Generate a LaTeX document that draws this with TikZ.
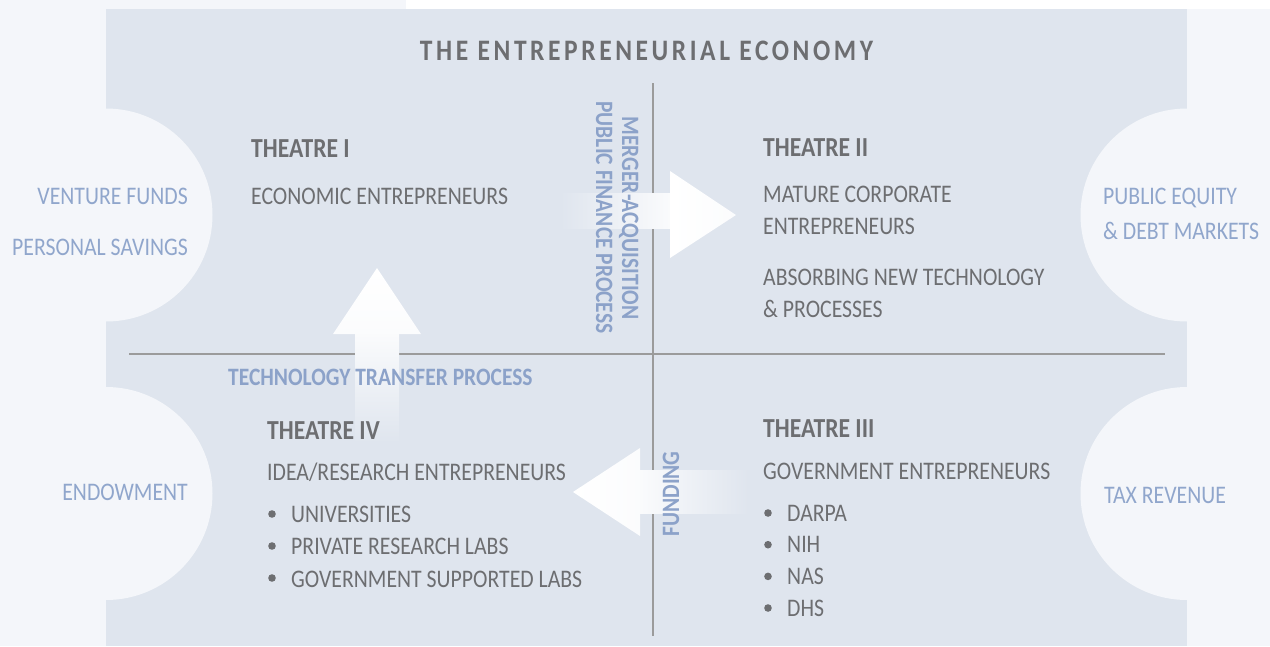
\documentclass[tikz,border=0pt]{standalone}
\usepackage{fontspec}
\setmainfont{Carlito}[FakeStretch=0.86]
\usepackage{graphicx}
\definecolor{outer}{HTML}{F4F6FA}
\definecolor{panel}{HTML}{DFE5EE}
\definecolor{greytxt}{HTML}{6D6E71}
\definecolor{bluetxt}{HTML}{90A6CC}
\definecolor{procblue}{HTML}{8CA2C9}
\definecolor{divline}{HTML}{9B9B9B}
\begin{document}
\begin{tikzpicture}[x=1pt,y=-1pt,
  txt/.style={inner sep=0pt, anchor=base west, text=greytxt, font=\fontsize{25.3}{30}\selectfont},
  hd/.style={inner sep=0pt, anchor=base west, text=greytxt, font=\fontsize{27.5}{30}\selectfont\bfseries},
  side/.style={inner sep=0pt, text=bluetxt, font=\fontsize{25.3}{30}\selectfont},
  proc/.style={inner sep=0pt, text=procblue, font=\fontsize{25}{30}\selectfont\bfseries},
  bul/.style={fill=greytxt, draw=none},
  divider/.style={draw=divline, line width=1.4pt}]
\useasboundingbox (0,0) rectangle (1270,646);
% background
\fill[outer] (0,0) rectangle (1270,646);
\fill[white] (406,0) rectangle (1270,9);
\fill[panel] (106,9) rectangle (1187,646);
\fill[outer] (106,215) circle (106.5);
\fill[outer] (106,493.5) circle (106.5);
\fill[outer] (1187,215) circle (106.5);
\fill[outer] (1187,493.5) circle (106.5);
% dividers
\coordinate (hl) at (129,354);
\coordinate (hr) at (1165,354);
\coordinate (vt) at (653,83);
\coordinate (vb) at (653,636);
\draw[divider] (hl) -- (hr);
\draw[divider] (vt) -- (vb);
% right arrow (merger)
\shade[left color=panel, right color=white!85!panel] (560,193) rectangle (670,228);
\shade[left color=white, right color=white!88!panel] (670,171) -- (736,215) -- (670,258) -- cycle;
% up arrow (technology transfer)
\shade[top color=white!85!panel, bottom color=panel] (355,334) rectangle (399,443);
\shade[top color=white, bottom color=white!88!panel] (333,334) -- (377,268) -- (421,334) -- cycle;
% left arrow (funding)
\shade[left color=white!85!panel, right color=panel] (640,470) rectangle (748,513);
\shade[left color=white, right color=white!88!panel] (640,448) -- (573,492) -- (640,536) -- cycle;
% title
\node[inner sep=0pt, anchor=base, text=greytxt, font=\fontsize{30}{34}\selectfont\bfseries] (title) at (646.5,60)
  {\resizebox{453pt}{19.5pt}{\addfontfeature{LetterSpace=12}THE ENTREPRENEURIAL ECONOMY}};
% theatre I
\node[hd] (th1) at (251,157) {THEATRE I};
\node[txt] (econ) at (251,204) {ECONOMIC ENTREPRENEURS};
% theatre II
\node[hd] (th2) at (763,156) {THEATRE II};
\node[txt] (mat1) at (763,202) {MATURE CORPORATE};
\node[txt] (mat2) at (763,234) {ENTREPRENEURS};
\node[txt] (abs1) at (763,285) {ABSORBING NEW TECHNOLOGY};
\node[txt] (abs2) at (763,317) {\& PROCESSES};
% theatre IV
\node[hd] (th4) at (267,439) {THEATRE IV};
\node[txt] (idea) at (267,480) {IDEA/RESEARCH ENTREPRENEURS};
\fill[bul] (272,514) circle (3.8);
\fill[bul] (272,546) circle (3.8);
\fill[bul] (272,578) circle (3.8);
\node[txt] (uni) at (291,522) {UNIVERSITIES};
\node[txt] (prl) at (291,554) {PRIVATE RESEARCH LABS};
\node[txt] (gsl) at (291,587) {GOVERNMENT SUPPORTED LABS};
% theatre III
\node[hd] (th3) at (763,437) {THEATRE III};
\node[txt] (gov) at (763,479) {GOVERNMENT ENTREPRENEURS};
\fill[bul] (768,513) circle (3.8);
\fill[bul] (768,544.7) circle (3.8);
\fill[bul] (768,576.4) circle (3.8);
\fill[bul] (768,608) circle (3.8);
\node[txt] (darpa) at (787,521) {DARPA};
\node[txt] (nih) at (787,552.7) {NIH};
\node[txt] (nas) at (787,584.4) {NAS};
\node[txt] (dhs) at (787,616) {DHS};
% side labels
\node[side, anchor=base east] (vf) at (188,204) {VENTURE FUNDS};
\node[side, anchor=base east] (ps) at (188,255) {PERSONAL SAVINGS};
\node[side, anchor=base east] (endow) at (188,500) {ENDOWMENT};
\node[side, anchor=base west] (peq) at (1103,204) {PUBLIC EQUITY};
\node[side, anchor=base west] (debt) at (1103,239) {\& DEBT MARKETS};
\node[side, anchor=base west] (tax) at (1104,503) {TAX REVENUE};
% process labels
\node[proc, anchor=base west] (ttp) at (228,385) {TECHNOLOGY TRANSFER PROCESS};
\node[proc, anchor=base, rotate=-90] (ma) at (622,218) {MERGER-ACQUISITION};
\node[proc, anchor=base, rotate=-90] (pfp) at (596,217.5) {PUBLIC FINANCE PROCESS};
\node[proc, anchor=base, rotate=90] (fund) at (679,494) {FUNDING};
\end{tikzpicture}
\end{document}
